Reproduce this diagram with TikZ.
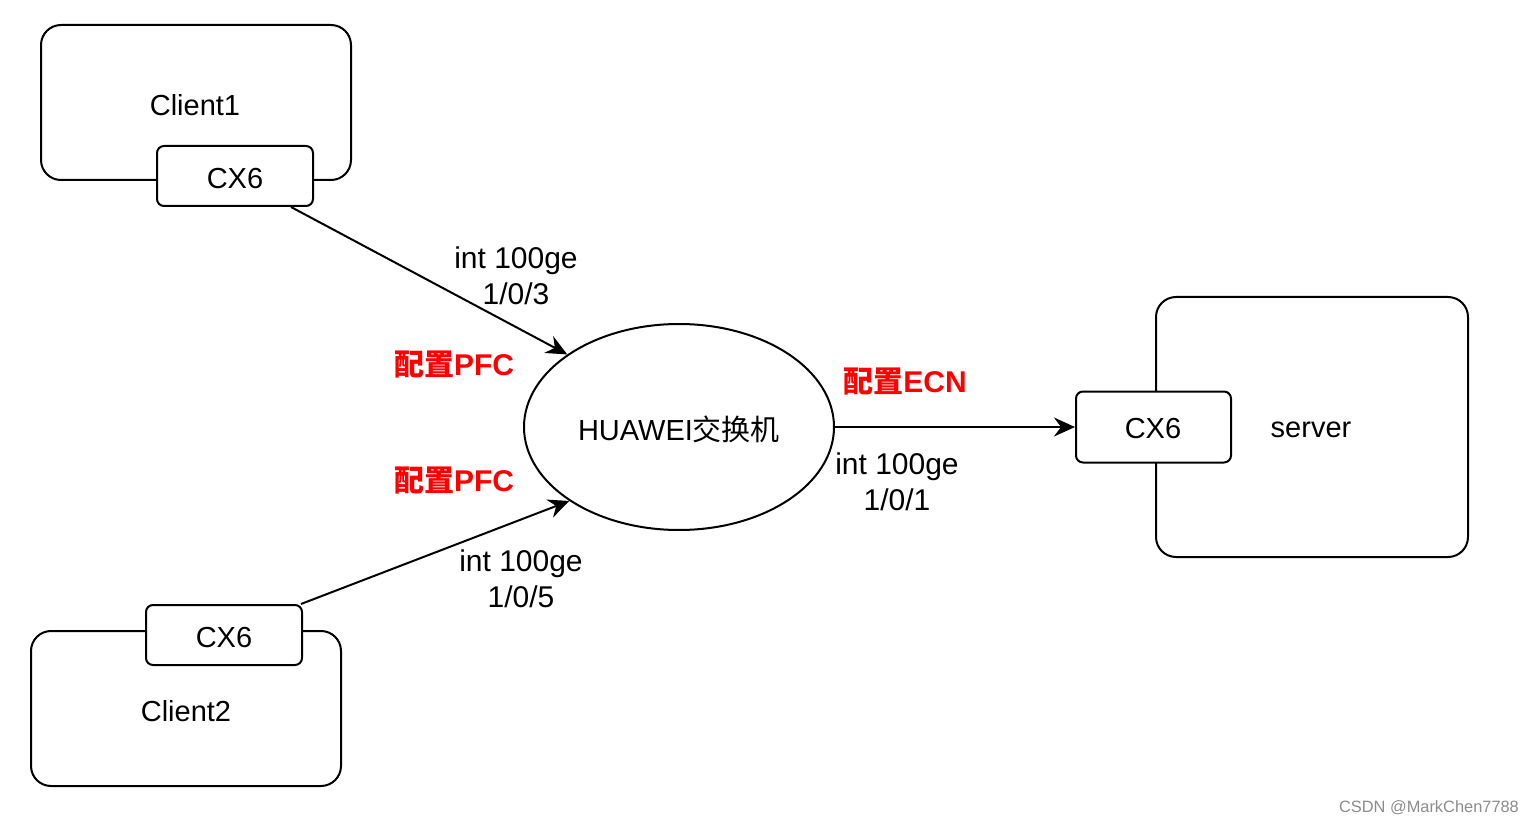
\documentclass[tikz,border=0pt]{standalone}
\usepackage{fontspec}
\setmainfont{Liberation Sans}
\newfontfamily\cjk{Noto Sans CJK SC}
\usetikzlibrary{arrows.meta,shapes.geometric}
\begin{document}
\begin{tikzpicture}[x=0.5pt,y=-0.5pt,
  every node/.style={inner sep=0pt,font=\fontsize{14.5}{18}\selectfont},
  hostbox/.style={draw=black,line width=1pt,rounded corners=10pt,fill=white,minimum width=155pt,minimum height=77.5pt},
  nicbox/.style={draw=black,line width=1pt,rounded corners=3.5pt,fill=white,minimum width=78pt,minimum height=30pt},
  switchnode/.style={draw=black,line width=1pt,ellipse,minimum width=155pt,minimum height=103pt},
  link/.style={line width=1pt,-{Stealth[length=10.5pt,width=9.5pt,inset=3.5pt]}},
  lbl/.style={align=center,font=\fontsize{15}{18}\selectfont},
  cfg/.style={text=red,font=\fontsize{15}{18}\selectfont\bfseries}]
\useasboundingbox (0,0) rectangle (1539,824);
% Client1
\node[hostbox] (c1) at (196,102.5) {};
\node (c1t) at (195,105) {Client1};
\node[nicbox] (cx1) at (235,176) {};
\node (cx1t) at (235,179) {CX6};
% Client2
\node[hostbox] (c2) at (186,708.5) {};
\node (c2t) at (186,711) {Client2};
\node[nicbox] (cx2) at (224,635) {};
\node (cx2t) at (224,638) {CX6};
% server
\node[hostbox,minimum width=156pt,minimum height=130pt] (srv) at (1312,427) {};
\node (srvt) at (1311,430) {server};
\node[nicbox,minimum width=77.5pt,minimum height=35.5pt] (cx3) at (1153.5,427) {};
\node (cx3t) at (1153,429) {CX6};
% switch
\node[switchnode] (sw) at (679,427) {};
\node (swt) at (679,429) {HUAWEI{\cjk 交换机}};
% links
\draw[link] ([xshift=-11.5pt]cx1.south east) -- (sw.147);
\draw[link] ([xshift=-1pt]cx2.north east) -- (sw.214);
\draw[link] (sw.east) -- (cx3.west);
% labels
\node[lbl] (l1) at (516,276) {int 100ge\\1/0/3};
\node[lbl] (l2) at (521,579) {int 100ge\\1/0/5};
\node[lbl] (l3) at (897,482) {int 100ge\\1/0/1};
\node[cfg] (p1) at (454,365) {{\cjk\bfseries 配置}PFC};
\node[cfg] (p2) at (454,481) {{\cjk\bfseries 配置}PFC};
\node[cfg] (e1) at (905,382) {{\cjk\bfseries 配置}ECN};
\node[text=black!45,font=\fontsize{8.2}{10}\selectfont] (wm) at (1429,808) {CSDN @MarkChen7788};
\end{tikzpicture}
\end{document}
